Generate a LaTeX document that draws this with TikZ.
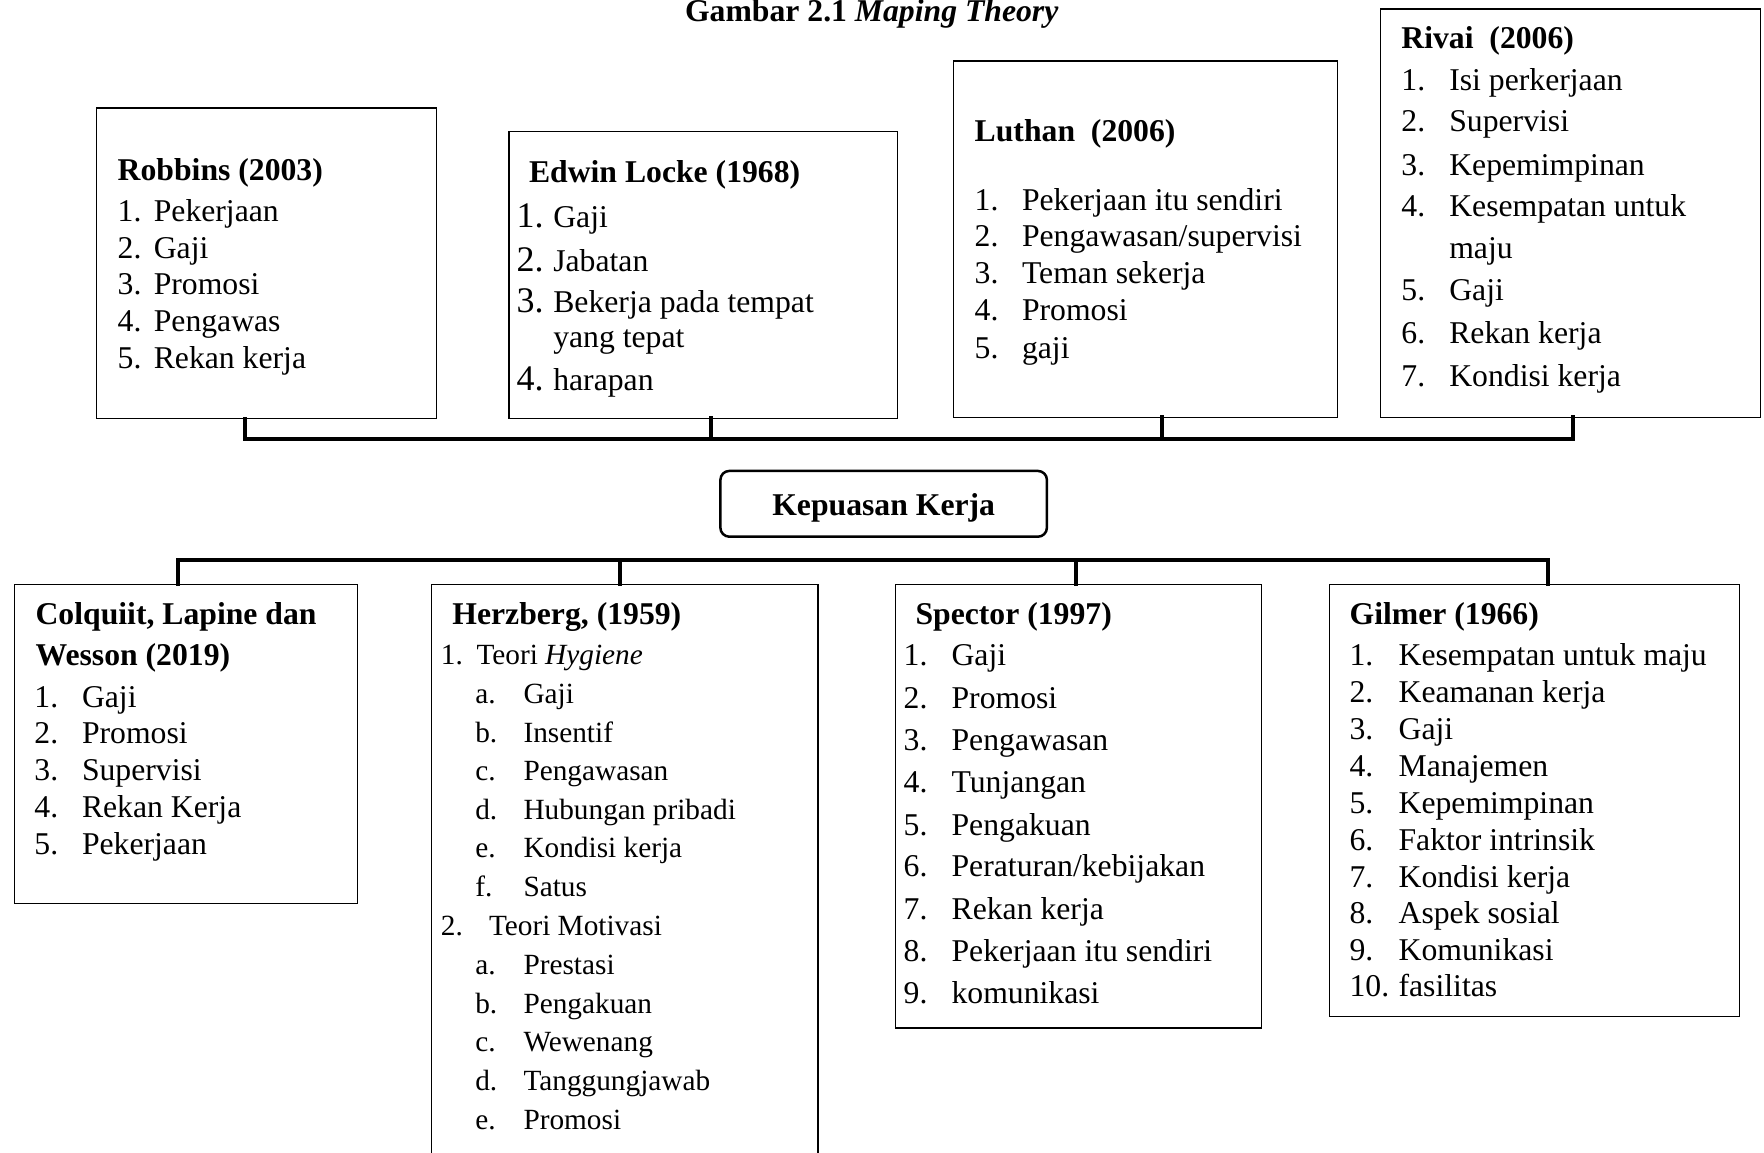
\documentclass[tikz,border=0pt]{standalone}
\usepackage{fontspec}
\setmainfont{Liberation Serif}
\usetikzlibrary{fit}
\tikzset{
  boxnode/.style={draw, line width=1.3pt, inner sep=0pt, outer sep=0pt, rectangle},
  bus/.style={line width=4pt, line join=miter, line cap=rect},
  txt/.style={inner sep=0pt, outer sep=0pt, anchor=base west, font=\fontsize{31.7}{38}\selectfont},
  ttl/.style={txt, font=\fontsize{31.7}{38}\selectfont\bfseries},
  hz/.style={txt, font=\fontsize{29.3}{35}\selectfont},
  bignum/.style={txt, font=\fontsize{36}{42}\selectfont},
  centrebox/.style={draw, line width=2.5pt, rounded corners=9pt, inner sep=0pt, outer sep=0pt,
      minimum width=326.5pt, minimum height=65.8pt,
      font=\fontsize{31.7}{38}\selectfont\bfseries, text height=28pt, text depth=5.6pt},
}
% item: name, number x, text x, baseline y, number, text
\newcommand\itemline[6]{%
  \node[txt] (#1n) at (#2,#4) {#5};
  \node[txt] (#1) at (#3,#4) {#6};}
\newcommand\hzline[6]{%
  \node[hz] (#1n) at (#2,#4) {#5};
  \node[hz] (#1) at (#3,#4) {#6};}
\begin{document}
\begin{tikzpicture}[x=1pt,y=-1pt]
\useasboundingbox (0,0) rectangle (1764,1152);

% title
\node[txt] (title) at (685,21.5) {\bfseries Gambar 2.1 \textit{Maping Theory}};

% boxes
\node[boxnode, fit={(96.75,108)(436.5,418.5)}] (rob) {};
\node[boxnode, fit={(509,131.7)(897.75,418.3)}] (loc) {};
\node[boxnode, fit={(953.3,61)(1337.7,417.3)}] (lut) {};
\node[boxnode, fit={(1380.6,9)(1760.5,417.3)}] (riv) {};
\node[centrebox] (kk) at (883.65,503.8) {Kepuasan Kerja};
\node[boxnode, fit={(14.4,584.4)(357.6,903.6)}] (col) {};
\node[boxnode, fit={(431.7,584.4)(818,1170)}] (her) {};
\node[boxnode, fit={(895.2,584.4)(1261.6,1028)}] (spe) {};
\node[boxnode, fit={(1329.3,584.4)(1739.6,1016.8)}] (gil) {};

% top bus
\coordinate (tb1) at (245,439);
\coordinate (tb2) at (710.7,439);
\coordinate (tb3) at (1162,439);
\coordinate (tb4) at (1573,439);
\draw[bus] (rob.south -| tb1) -- (tb1) -- (tb4) -- (riv.south -| tb4);
\draw[bus] (loc.south -| tb2) -- (tb2);
\draw[bus] (lut.south -| tb3) -- (tb3);

% bottom bus
\coordinate (bb1) at (178,560);
\coordinate (bb2) at (620,560);
\coordinate (bb3) at (1076.2,560);
\coordinate (bb4) at (1548,560);
\draw[bus] (col.north -| bb1) -- (bb1) -- (bb4) -- (gil.north -| bb4);
\draw[bus] (her.north -| bb2) -- (bb2);
\draw[bus] (spe.north -| bb3) -- (bb3);

% Robbins
\node[ttl] (robT) at (117.7,180) {Robbins (2003)};
\itemline{rob1}{117.7}{153.8}{221.5}{1.}{Pekerjaan}
\itemline{rob2}{117.7}{153.8}{258.2}{2.}{Gaji}
\itemline{rob3}{117.7}{153.8}{294.9}{3.}{Promosi}
\itemline{rob4}{117.7}{153.8}{331.6}{4.}{Pengawas}
\itemline{rob5}{117.7}{153.8}{368.3}{5.}{Rekan kerja}

% Edwin Locke
\node[ttl] (locT) at (529,182.7) {Edwin Locke (1968)};
\node[bignum] (loc1n) at (516.7,227.3) {1.};
\node[txt] (loc1) at (553.3,227.3) {Gaji};
\node[bignum] (loc2n) at (516.7,271) {2.};
\node[txt] (loc2) at (553.3,271) {Jabatan};
\node[bignum] (loc3n) at (516.7,312.7) {3.};
\node[txt] (loc3) at (553.3,312.7) {Bekerja pada tempat};
\node[txt] (loc3b) at (553.3,347.5) {yang tepat};
\node[bignum] (loc4n) at (516.7,390) {4.};
\node[txt] (loc4) at (553.3,390) {harapan};

% Luthan
\node[ttl] (lutT) at (974.7,141.7) {Luthan\ \ (2006)};
\itemline{lut1}{974.7}{1022}{210.7}{1.}{Pekerjaan itu sendiri}
\itemline{lut2}{974.7}{1022}{246.7}{2.}{Pengawasan/supervisi}
\itemline{lut3}{974.7}{1022}{283.3}{3.}{Teman sekerja}
\itemline{lut4}{974.7}{1022}{320}{4.}{Promosi}
\itemline{lut5}{974.7}{1022}{358.3}{5.}{gaji}

% Rivai
\node[ttl] (rivT) at (1401.4,48.3) {Rivai\ \ (2006)};
\itemline{riv1}{1401.4}{1449.3}{90.7}{1.}{Isi perkerjaan}
\itemline{riv2}{1401.4}{1449.3}{131.7}{2.}{Supervisi}
\itemline{riv3}{1401.4}{1449.3}{175}{3.}{Kepemimpinan}
\itemline{riv4}{1401.4}{1449.3}{216.7}{4.}{Kesempatan untuk}
\node[txt] (riv4b) at (1449.3,258.3) {maju};
\itemline{riv5}{1401.4}{1449.3}{300}{5.}{Gaji}
\itemline{riv6}{1401.4}{1449.3}{343.3}{6.}{Rekan kerja}
\itemline{riv7}{1401.4}{1449.3}{386.7}{7.}{Kondisi kerja}

% Colquiit
\node[ttl] (colT) at (35.6,624) {Colquiit, Lapine dan};
\node[ttl] (colT2) at (35.6,665.7) {Wesson (2019)};
\itemline{col1}{34.4}{82}{707}{1.}{Gaji}
\itemline{col2}{34.4}{82}{743.4}{2.}{Promosi}
\itemline{col3}{34.4}{82}{780.6}{3.}{Supervisi}
\itemline{col4}{34.4}{82}{817.8}{4.}{Rekan Kerja}
\itemline{col5}{34.4}{82}{854.2}{5.}{Pekerjaan}

% Herzberg
\node[ttl] (herT) at (452.4,624) {Herzberg, (1959)};
\hzline{her1}{440.9}{476.5}{664.8}{1.}{Teori \textit{Hygiene}}
\hzline{her1a}{475.3}{523.5}{703.4}{a.}{Gaji}
\hzline{her1b}{475.3}{523.5}{742}{b.}{Insentif}
\hzline{her1c}{475.3}{523.5}{780.6}{c.}{Pengawasan}
\hzline{her1d}{475.3}{523.5}{819.2}{d.}{Hubungan pribadi}
\hzline{her1e}{475.3}{523.5}{857.8}{e.}{Kondisi kerja}
\hzline{her1f}{475.3}{523.5}{896.4}{f.}{Satus}
\hzline{her2}{440.9}{489}{935}{2.}{Teori Motivasi}
\hzline{her2a}{475.3}{523.5}{974.5}{a.}{Prestasi}
\hzline{her2b}{475.3}{523.5}{1013}{b.}{Pengakuan}
\hzline{her2c}{475.3}{523.5}{1051.7}{c.}{Wewenang}
\hzline{her2d}{475.3}{523.5}{1090.3}{d.}{Tanggungjawab}
\hzline{her2e}{475.3}{523.5}{1129}{e.}{Promosi}

% Spector
\node[ttl] (speT) at (915.5,624) {Spector (1997)};
\itemline{spe1}{903.7}{951.6}{665.7}{1.}{Gaji}
\itemline{spe2}{903.7}{951.6}{708}{2.}{Promosi}
\itemline{spe3}{903.7}{951.6}{750.2}{3.}{Pengawasan}
\itemline{spe4}{903.7}{951.6}{792}{4.}{Tunjangan}
\itemline{spe5}{903.7}{951.6}{835.1}{5.}{Pengakuan}
\itemline{spe6}{903.7}{951.6}{876.9}{6.}{Peraturan/kebijakan}
\itemline{spe7}{903.7}{951.6}{919.1}{7.}{Rekan kerja}
\itemline{spe8}{903.7}{951.6}{961.3}{8.}{Pekerjaan itu sendiri}
\itemline{spe9}{903.7}{951.6}{1003.1}{9.}{komunikasi}

% Gilmer
\node[ttl] (gilT) at (1349.6,624) {Gilmer (1966)};
\itemline{gil1}{1349.6}{1398.6}{665.7}{1.}{Kesempatan untuk maju}
\itemline{gil2}{1349.6}{1398.6}{702.5}{2.}{Keamanan kerja}
\itemline{gil3}{1349.6}{1398.6}{739.7}{3.}{Gaji}
\itemline{gil4}{1349.6}{1398.6}{776.1}{4.}{Manajemen}
\itemline{gil5}{1349.6}{1398.6}{813.3}{5.}{Kepemimpinan}
\itemline{gil6}{1349.6}{1398.6}{850.1}{6.}{Faktor intrinsik}
\itemline{gil7}{1349.6}{1398.6}{887.3}{7.}{Kondisi kerja}
\itemline{gil8}{1349.6}{1398.6}{923.7}{8.}{Aspek sosial}
\itemline{gil9}{1349.6}{1398.6}{960}{9.}{Komunikasi}
\itemline{gil10}{1349.6}{1398.6}{996.3}{10.}{fasilitas}
\end{tikzpicture}
\end{document}
